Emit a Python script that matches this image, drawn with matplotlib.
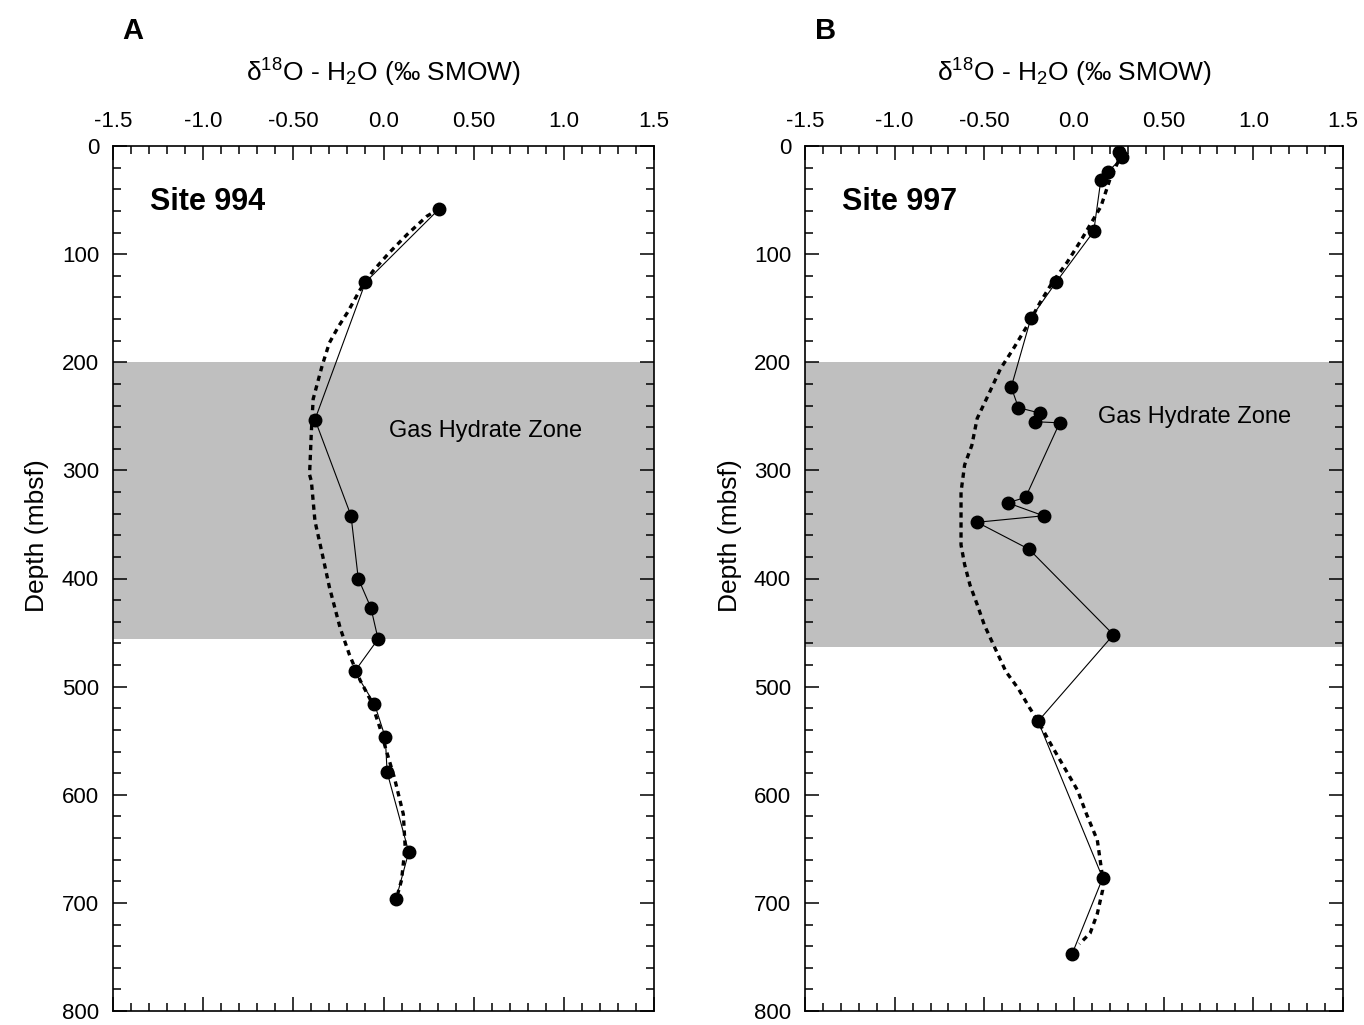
import numpy as np
import matplotlib
matplotlib.use("Agg")
import matplotlib.pyplot as plt
from matplotlib.ticker import MultipleLocator, FixedFormatter, FixedLocator

plt.rcParams['font.family'] = ['Liberation Sans', 'DejaVu Sans']
plt.rcParams['mathtext.fontset'] = 'custom'
plt.rcParams['mathtext.rm'] = 'Liberation Sans'
plt.rcParams['mathtext.it'] = 'Liberation Sans:italic'

# Site 994 measured d18O and depth
d18o_994 = [0.31, -0.10, -0.38, -0.18, -0.14, -0.07, -0.03, -0.16, -0.05, 0.01, 0.02, 0.14, 0.07]
depth_994 = [58, 126, 253, 342, 400, 427, 456, 486, 516, 547, 579, 653, 696]
# model curve 994 (dotted)
fit_x_994 = [0.31, 0.24, 0.13, 0.03, -0.06, -0.13, -0.20, -0.25, -0.30, -0.34, -0.39, -0.40, -0.41,
             -0.40, -0.38, -0.34, -0.30, -0.24, -0.19, -0.13, -0.07, -0.02, 0.01, 0.06, 0.11,
             0.12, 0.10, 0.08]
fit_d_994 = [58, 65, 82, 99, 116, 133, 154, 167, 182, 203, 234, 264, 304,
             310, 347, 377, 408, 446, 470, 494, 513, 538, 556, 584, 618,
             648, 679, 691]

# Site 997
d18o_997 = [0.25, 0.27, 0.19, 0.15, 0.11, -0.10, -0.24, -0.35, -0.31, -0.19, -0.22, -0.08,
            -0.27, -0.37, -0.17, -0.54, -0.25, 0.22, -0.20, 0.16, -0.01]
depth_997 = [6, 10, 24, 31, 79, 126, 159, 223, 242, 247, 255, 256,
             325, 330, 342, 348, 373, 452, 532, 677, 747]
fit_x_997 = [0.27, 0.20, 0.15, 0.10, 0.04, -0.04, -0.12, -0.19, -0.26, -0.34, -0.41, -0.48,
             -0.54, -0.57, -0.61, -0.63, -0.63, -0.63, -0.61, -0.58, -0.54, -0.50, -0.45,
             -0.38, -0.31, -0.25, -0.20, -0.13, -0.06, 0.02, 0.07, 0.13, 0.16, 0.16, 0.13,
             0.09, 0.03]
fit_d_997 = [6, 31, 56, 70, 87, 108, 126, 145, 166, 188, 206, 231,
             252, 277, 295, 320, 344, 369, 387, 406, 424, 443, 461,
             486, 502, 519, 532, 553, 573, 596, 618, 642, 677, 688, 710,
             728, 738]

# gas hydrate zone (top, bottom) in mbsf
ghz_994 = (200, 456)
ghz_997 = (200, 463)

xticks = [-1.5, -1.0, -0.5, 0.0, 0.5, 1.0, 1.5]
xtick_labels = ['-1.5', '-1.0', '-0.50', '0.0', '0.50', '1.0', '1.5']

fig = plt.figure(figsize=(13.64, 10.25), dpi=100)
H = 1025.0
W = 1364.0
axA = fig.add_axes([113 / W, (H - 1011) / H, 541 / W, 865 / H])
axB = fig.add_axes([805 / W, (H - 1011) / H, 538 / W, 865 / H])


def panel(ax, x, d, fx, fd, ghz, letter, site, ghz_pos):
    ax.axhspan(ghz[0], ghz[1], color='#bfbfbf', lw=0, zorder=0)
    ax.plot(fx, fd, color='black', lw=2.4, ls=(0, (1.6, 1.4)), zorder=2)
    ax.plot(x, d, color='black', lw=0.8, zorder=3)
    ax.plot(x, d, 'o', color='black', ms=9, zorder=4)
    ax.set_xlim(-1.5, 1.5)
    ax.set_ylim(800, 0)
    ax.xaxis.set_major_locator(FixedLocator(xticks))
    ax.xaxis.set_major_formatter(FixedFormatter(xtick_labels))
    ax.xaxis.set_minor_locator(MultipleLocator(0.1))
    ax.yaxis.set_major_locator(MultipleLocator(100))
    ax.yaxis.set_minor_locator(MultipleLocator(20))
    ax.tick_params(which='both', direction='in', top=True, bottom=True, left=True, right=True,
                   labeltop=True, labelbottom=False, width=1.1)
    ax.tick_params(which='major', length=10, labelsize=16, pad=10)
    ax.tick_params(which='minor', length=5.5)
    for s in ax.spines.values():
        s.set_linewidth(1.2)
    ax.text(0.5, 1.085, 'δ$^{18}$O - H$_2$O (‰ SMOW)', transform=ax.transAxes,
            ha='center', va='center', fontsize=19)
    ax.text(0.018, 1.133, letter, transform=ax.transAxes, ha='left', va='center',
            fontsize=21, fontweight='bold')
    ax.text(0.068, 0.9356, site, transform=ax.transAxes, ha='left', va='center',
            fontsize=22, fontweight='bold')
    ax.text(ghz_pos[0], ghz_pos[1], 'Gas Hydrate Zone', transform=ax.transAxes,
            ha='center', va='center', fontsize=17)
    ax.set_ylabel('Depth (mbsf)', fontsize=19)
    ax.yaxis.set_label_coords(-0.118, 0.55)


panel(axA, d18o_994, depth_994, fit_x_994, fit_d_994, ghz_994, 'A', 'Site 994', (0.688, 0.671))
panel(axB, d18o_997, depth_997, fit_x_997, fit_d_997, ghz_997, 'B', 'Site 997', (0.725, 0.687))

fig.savefig('out.png', dpi=100)
